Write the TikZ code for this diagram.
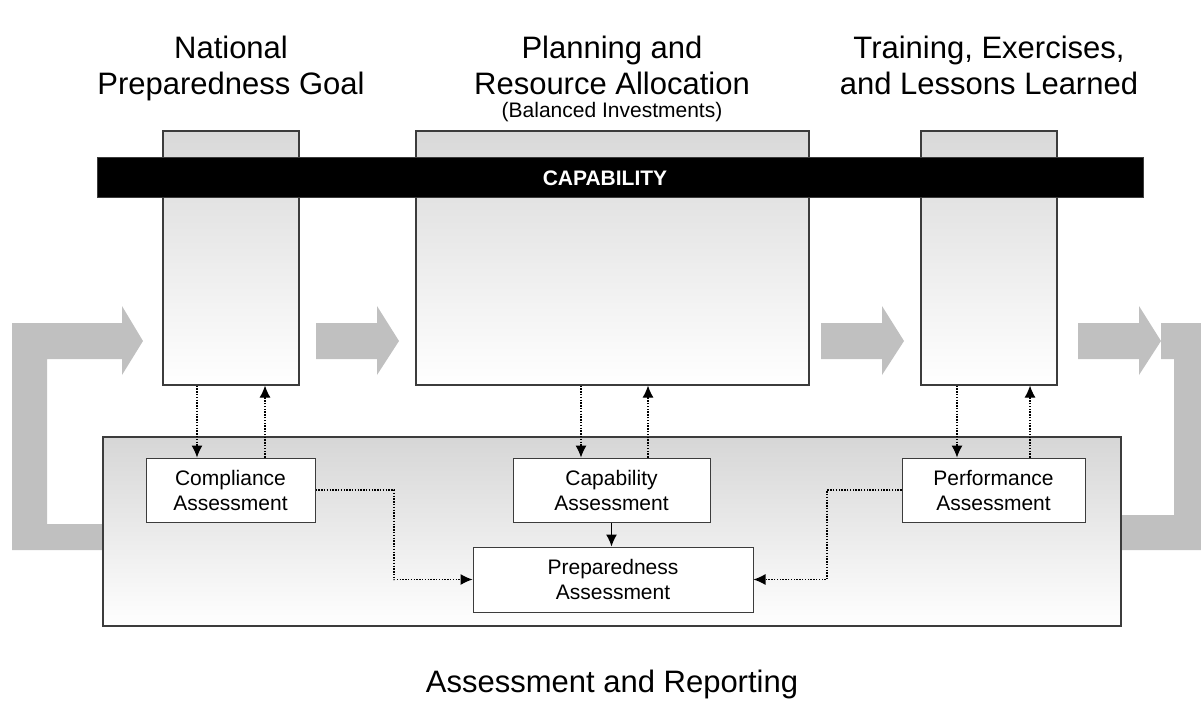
\documentclass[tikz,border=0pt]{standalone}
\usepackage{fontspec}
\setmainfont{Liberation Sans}
\usetikzlibrary{arrows.meta,calc}
\definecolor{arrowgray}{RGB}{192,192,192}
\definecolor{edgegray}{RGB}{60,60,60}
\tikzset{
  phasebox/.style={draw=edgegray,line width=1.2pt,rectangle,top color=black!15,bottom color=white,inner sep=0pt},
  assessbox/.style={draw=edgegray,line width=1pt,rectangle,fill=white,inner sep=0pt,align=center,font=\fontsize{21}{25}\selectfont},
  titletext/.style={anchor=base,inner sep=0pt,font=\fontsize{31}{37}\selectfont},
  subtext/.style={anchor=base,inner sep=0pt,font=\fontsize{21}{25}\selectfont},
  bigarrow/.style={fill=arrowgray,draw=none},
  dotarrow/.style={line width=1.1pt,dash pattern=on 1.4pt off 1.4pt,-{Latex[length=12pt,width=11pt]}},
  solidarrow/.style={line width=1.3pt,-{Latex[length=12pt,width=11pt]}}
}
\begin{document}
\begin{tikzpicture}[x=1pt,y=-1pt]
\useasboundingbox (0,0) rectangle (1201,702);
% gray loop arrows (behind)
\fill[bigarrow] (12,323) -- (122,323) -- (122,306) -- (143,341) -- (122,375) -- (122,359) -- (47,359) -- (47,524) -- (160,524) -- (160,550) -- (12,550) -- cycle;
\fill[bigarrow] (316,323) -- (377,323) -- (377,306) -- (399,341) -- (377,375) -- (377,359) -- (316,359) -- cycle;
\fill[bigarrow] (821,323) -- (882,323) -- (882,306) -- (904,341) -- (882,375) -- (882,359) -- (821,359) -- cycle;
\fill[bigarrow] (1078,323) -- (1139,323) -- (1139,306) -- (1161,341) -- (1139,375) -- (1139,359) -- (1078,359) -- cycle;
\fill[bigarrow] (1161,323) -- (1201,323) -- (1201,550) -- (1080,550) -- (1080,515) -- (1174,515) -- (1174,359) -- (1161,359) -- cycle;
% titles
\node[titletext] (t1a) at (231,58) {National};
\node[titletext] (t1b) at (231,94) {Preparedness Goal};
\node[titletext] (t2a) at (612,58) {Planning and};
\node[titletext] (t2b) at (612,94) {Resource Allocation};
\node[subtext] (t2c) at (612,117) {(Balanced Investments)};
\node[titletext] (t3a) at (989,58) {Training, Exercises,};
\node[titletext] (t3b) at (989,94) {and Lessons Learned};
% phase boxes
\node[phasebox,minimum width=136pt,minimum height=254pt] (b1) at (231,258) {};
\node[phasebox,minimum width=393pt,minimum height=254pt] (b2) at (612.5,258) {};
\node[phasebox,minimum width=136pt,minimum height=254pt] (b3) at (989,258) {};
% capability bar
\node[fill=black,draw=edgegray,line width=0.8pt,minimum width=1046pt,minimum height=40pt,inner sep=0pt] (bar) at (620,177) {};
\node[text=white,font=\fontsize{21}{25}\selectfont\bfseries,inner sep=0pt] (barlabel) at (605,178) {CAPABILITY};
% assessment area
\node[phasebox,top color=black!16,minimum width=1018pt,minimum height=189pt] (area) at (612,531.5) {};
\node[assessbox,minimum width=169pt,minimum height=64pt] (comp) at (230.5,490) {Compliance\\Assessment};
\node[assessbox,minimum width=197pt,minimum height=64pt] (capa) at (611.5,490) {Capability\\Assessment};
\node[assessbox,minimum width=183pt,minimum height=64pt] (perf) at (993.5,490) {Performance\\Assessment};
\node[assessbox,minimum width=280pt,minimum height=65pt] (prep) at (613,579.5) {Preparedness\\Assessment};
\node[titletext] (bottomtitle) at (612,692) {Assessment and Reporting};
% helper x positions
\coordinate (xa) at (197,0);
\coordinate (xb) at (265,0);
\coordinate (xc) at (581,0);
\coordinate (xd) at (648,0);
\coordinate (xe) at (957,0);
\coordinate (xf) at (1030,0);
\coordinate (xl) at (394,0);
\coordinate (xr) at (827,0);
% dotted connectors
\draw[dotarrow] (b1.south -| xa) -- (comp.north -| xa);
\draw[dotarrow] (comp.north -| xb) -- (b1.south -| xb);
\draw[dotarrow] (b2.south -| xc) -- (capa.north -| xc);
\draw[dotarrow] (capa.north -| xd) -- (b2.south -| xd);
\draw[dotarrow] (b3.south -| xe) -- (perf.north -| xe);
\draw[dotarrow] (perf.north -| xf) -- (b3.south -| xf);
\draw[dotarrow] (comp.east) -- (comp.east -| xl) -- (prep.west -| xl) -- (prep.west);
\draw[dotarrow] (perf.west) -- (perf.west -| xr) -- (prep.east -| xr) -- (prep.east);
\draw[solidarrow] (capa.south) -- (capa.south |- prep.north);
\end{tikzpicture}
\end{document}
